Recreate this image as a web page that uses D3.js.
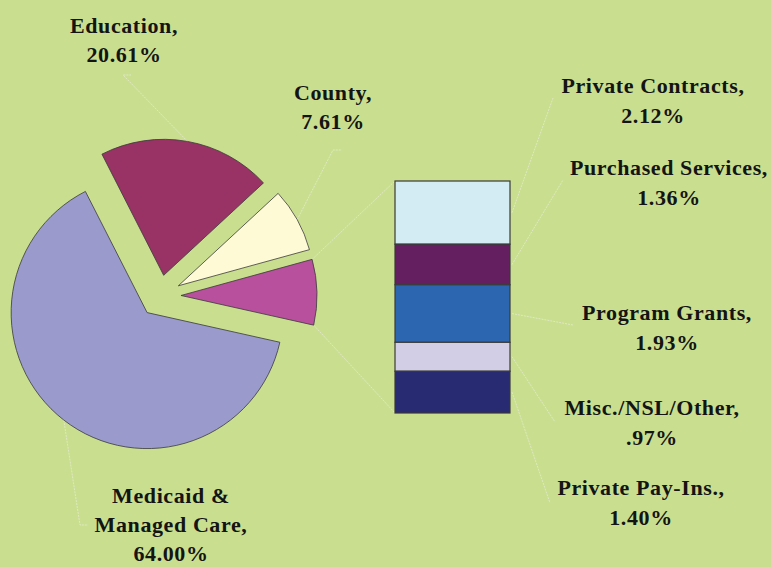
<!DOCTYPE html>
<html>
<head>
<meta charset="utf-8">
<script src="https://cdn.jsdelivr.net/npm/d3@7"></script>
<style>
  html, body { margin: 0; padding: 0; background: #c9df8f; }
  svg { display: block; }
  .lbl { font-family: "Liberation Serif", "Times New Roman", serif; font-weight: bold; font-size: 22px; fill: #141414; letter-spacing: 0.6px; }
</style>
</head>
<body>
<div class="chart"></div>
<script>
// Pie slices (the "Other" slice is split out into the bar)
const pieNames = ["Education", "County", "Other", "Medicaid & Managed Care"];
const pieValues = [20.61, 7.61, 7.78, 64.00];
const pieColors = ["#993366", "#fffad6", "#b8509e", "#9a9acc"];

// Breakdown of the "Other" slice, top to bottom
const barNames = ["Private Contracts", "Purchased Services", "Program Grants", "Misc./NSL/Other", "Private Pay-Ins."];
const barValues = [2.12, 1.36, 1.93, 0.97, 1.40];
const barColors = ["#d3ecf4", "#631f60", "#2c66b0", "#d1cee6", "#282a72"];

// Label text lines
const pieLabelLines = [["Education,"], ["County,"], null, ["Medicaid &", "Managed Care,"]];
const barLabelLines = [["Private Contracts,"], ["Purchased Services,"], ["Program Grants,"], ["Misc./NSL/Other,"], ["Private Pay-Ins.,"]];

// Layout for labels: [center x, first baseline y], and leader end points
const pieLabelPos = [[124, 33], [333, 100], null, [171, 503]];
const pieLeaderEnd = [[123, 75], [333, 150], null, [80, 525]];
const barLabelPos = [[653, 93], [669, 175], [667, 320], [652, 415], [641, 495]];
const barLeaderEnd = [[553, 98], [563, 180], [573, 325], [555, 422], [550, 503]];

const W = 771, H = 567;
const fmtPct = v => d3.format(".2f")(v).replace(/^0\./, ".") + "%";

const svg = d3.select(".chart").append("svg")
  .attr("width", W).attr("height", H);

svg.append("rect").attr("width", W).attr("height", H).attr("fill", "#c9df8f");

// pie geometry
const cx = 160, cy = 296, r = 136, explode = 21;
const deg = Math.PI / 180;

const pie = d3.pie().sort(null).value(d => d)
  .startAngle(-27 * deg).endAngle(333 * deg);
const arcs = pie(pieValues);
const arc = d3.arc().innerRadius(0).outerRadius(r);

const offset = a => {
  const m = (a.startAngle + a.endAngle) / 2;
  return [cx + explode * Math.sin(m), cy - explode * Math.cos(m)];
};
const polar = (o, ang, rad) => [o[0] + rad * Math.sin(ang), o[1] - rad * Math.cos(ang)];

// bar scales
const barX0 = 395, barX1 = 510, barTop = 181, barBottom = 413;
const total = d3.sum(barValues);
const y = d3.scaleLinear().domain([0, total]).range([barTop, barBottom]);
const cum = d3.cumsum(barValues);
const segs = barValues.map((v, i) => ({ y0: cum[i] - v, y1: cum[i], i }));

// faint leader lines
const leader = svg.append("g")
  .attr("fill", "none")
  .attr("stroke", "#dfe9c0")
  .attr("stroke-width", 1)
  .attr("stroke-dasharray", "2,1");

// connector lines from the Other slice to the bar
const other = arcs[2];
const oc = offset(other);
const pTop = polar(oc, other.startAngle, r);
const pBot = polar(oc, other.endAngle, r);
leader.append("line").attr("x1", pTop[0]).attr("y1", pTop[1]).attr("x2", barX0).attr("y2", y(0));
leader.append("line").attr("x1", pBot[0]).attr("y1", pBot[1]).attr("x2", barX0).attr("y2", y(total));

// slices
svg.append("g").selectAll("path")
  .data(arcs)
  .join("path")
  .attr("transform", d => `translate(${offset(d)})`)
  .attr("d", arc)
  .attr("fill", (d, i) => pieColors[i])
  .attr("stroke", "#3a3a3a")
  .attr("stroke-width", 0.8);

// bar segments
svg.append("g").selectAll("rect")
  .data(segs)
  .join("rect")
  .attr("x", barX0)
  .attr("y", d => y(d.y0))
  .attr("width", barX1 - barX0)
  .attr("height", d => y(d.y1) - y(d.y0))
  .attr("fill", d => barColors[d.i])
  .attr("stroke", "#3a3a3a")
  .attr("stroke-width", 1.2);

// pie labels + leaders
arcs.forEach((a, i) => {
  if (!pieLabelLines[i]) return;
  const m = (a.startAngle + a.endAngle) / 2;
  const p = polar(offset(a), m, r);
  const e = pieLeaderEnd[i];
  leader.append("polyline")
    .attr("points", [p, e, [e[0] + 8, e[1]]].map(q => q.join(",")).join(" "));
  const lines = pieLabelLines[i].concat([fmtPct(pieValues[i])]);
  const t = svg.append("text").attr("class", "lbl").attr("text-anchor", "middle");
  lines.forEach((s, k) => {
    t.append("tspan").attr("x", pieLabelPos[i][0]).attr("y", pieLabelPos[i][1] + k * 29).text(s);
  });
});

// bar labels + leaders
segs.forEach((s, i) => {
  const ym = y((s.y0 + s.y1) / 2);
  const e = barLeaderEnd[i];
  leader.append("line").attr("x1", barX1 + 2).attr("y1", ym).attr("x2", e[0]).attr("y2", e[1]);
  const lines = barLabelLines[i].concat([fmtPct(barValues[i])]);
  const t = svg.append("text").attr("class", "lbl").attr("text-anchor", "middle");
  lines.forEach((str, k) => {
    t.append("tspan").attr("x", barLabelPos[i][0]).attr("y", barLabelPos[i][1] + k * 30).text(str);
  });
});
</script>
</body>
</html>
